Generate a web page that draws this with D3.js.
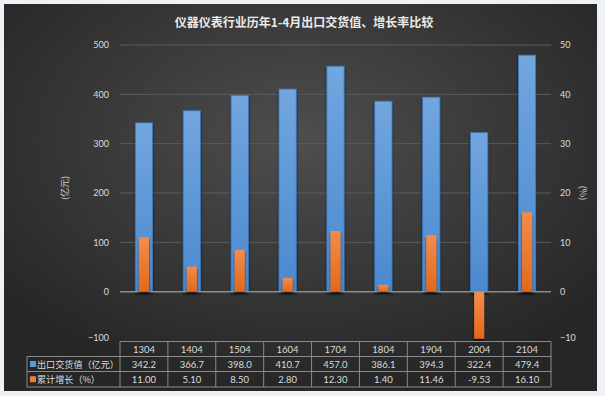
<!DOCTYPE html>
<html>
<head>
<meta charset="utf-8">
<script src="https://cdn.jsdelivr.net/npm/d3@7"></script>
<style>
  html, body { margin: 0; padding: 0; background: #eef1f5; }
  svg { display: block; }
</style>
</head>
<body>
<div id="chart"></div>
<script>
// data
const categories = ["1304", "1404", "1504", "1604", "1704", "1804", "1904", "2004", "2104"];
const exportValues = [342.2, 366.7, 398.0, 410.7, 457.0, 386.1, 394.3, 322.4, 479.4];
const growthRates = [11.00, 5.10, 8.50, 2.80, 12.30, 1.40, 11.46, -9.53, 16.10];
const leftTicks = [-100, 0, 100, 200, 300, 400, 500];
const rightTicks = [-10, 0, 10, 20, 30, 40, 50];
const seriesNames = ["出口交货值（亿元）", "累计增长（%）"];

const W = 605, H = 396;
const plot = { left: 120, right: 551, top: 45, bottom: 341 };
const cjk = "'Noto Sans CJK SC', 'Noto Sans', sans-serif";
const numFont = "'Lato', 'Noto Sans', sans-serif";
const txt = "#dcdcdc";

const svg = d3.select("#chart").append("svg")
  .attr("width", W).attr("height", H);

const defs = svg.append("defs");

const bg = defs.append("radialGradient").attr("id", "bg")
  .attr("cx", "50%").attr("cy", "35%").attr("r", "65%");
bg.append("stop").attr("offset", "0%").attr("stop-color", "#4e4e4e");
bg.append("stop").attr("offset", "100%").attr("stop-color", "#262626");

const blueGrad = defs.append("linearGradient").attr("id", "blueGrad")
  .attr("x1", 0).attr("y1", 0).attr("x2", 0).attr("y2", 1);
blueGrad.append("stop").attr("offset", "0%").attr("stop-color", "#72a6de");
blueGrad.append("stop").attr("offset", "100%").attr("stop-color", "#4a89cf");

const orangeGrad = defs.append("linearGradient").attr("id", "orangeGrad")
  .attr("x1", 0).attr("y1", 0).attr("x2", 0).attr("y2", 1);
orangeGrad.append("stop").attr("offset", "0%").attr("stop-color", "#f28c4c");
orangeGrad.append("stop").attr("offset", "100%").attr("stop-color", "#e2691b");

const shadow = defs.append("filter").attr("id", "shadow")
  .attr("x", "-30%").attr("y", "-10%").attr("width", "160%").attr("height", "130%");
shadow.append("feDropShadow").attr("dx", 0).attr("dy", 2)
  .attr("stdDeviation", 1.2).attr("flood-color", "#000").attr("flood-opacity", 0.7);

// panel
svg.append("rect").attr("x", 4).attr("y", 4).attr("width", 593).attr("height", 387)
  .attr("fill", "url(#bg)");

// scales
const x = d3.scaleBand().domain(categories).range([plot.left, plot.right]).padding(0);
const yL = d3.scaleLinear().domain([-100, 500]).range([plot.bottom, plot.top]);
const yR = d3.scaleLinear().domain([-10, 50]).range([plot.bottom, plot.top]);

// title
svg.append("text")
  .attr("x", 304).attr("y", 27)
  .attr("text-anchor", "middle")
  .attr("font-family", cjk).attr("font-size", 12).attr("font-weight", "bold")
  .attr("fill", "#eaeaea")
  .text("仪器仪表行业历年1-4月出口交货值、增长率比较");

// gridlines
svg.append("g").selectAll("line")
  .data(leftTicks.filter(d => d > 0))
  .join("line")
  .attr("x1", plot.left).attr("x2", plot.right)
  .attr("y1", d => yL(d)).attr("y2", d => yL(d))
  .attr("stroke", "#5c5c5c").attr("stroke-width", 1);

// left axis labels
const leftAxis = svg.append("g")
  .attr("transform", `translate(${plot.left},0)`)
  .call(d3.axisLeft(yL).tickValues(leftTicks).tickSize(0).tickPadding(11));
leftAxis.select(".domain").remove();
leftAxis.selectAll("text")
  .attr("font-family", numFont).attr("font-size", 9).attr("fill", txt);
leftAxis.selectAll("text").filter(d => d === -100).attr("dy", "-0.1em");

// right axis labels
const rightAxis = svg.append("g")
  .attr("transform", `translate(${plot.right},0)`)
  .call(d3.axisRight(yR).tickValues(rightTicks).tickSize(0).tickPadding(9));
rightAxis.select(".domain").remove();
rightAxis.selectAll("text")
  .attr("font-family", numFont).attr("font-size", 9).attr("fill", txt);
rightAxis.selectAll("text").filter(d => d === -10).attr("dy", "-0.1em");

// axis titles
svg.append("text")
  .attr("transform", `translate(68,${(yL(500) + yL(-100)) / 2 - 5}) rotate(-90)`)
  .attr("text-anchor", "middle")
  .attr("font-family", cjk).attr("font-size", 9).attr("fill", "#cfcfcf")
  .text("(亿元)");
svg.append("text")
  .attr("transform", `translate(580,${(yR(50) + yR(-10)) / 2}) rotate(90)`)
  .attr("text-anchor", "middle")
  .attr("font-family", cjk).attr("font-size", 9).attr("fill", "#cfcfcf")
  .text("(%)");

// blue bars (left axis)
const bw = x.bandwidth() * 0.36;
svg.append("g").selectAll("rect")
  .data(exportValues)
  .join("rect")
  .attr("x", (d, i) => x(categories[i]) + (x.bandwidth() - bw) / 2)
  .attr("y", d => yL(d))
  .attr("width", bw)
  .attr("height", d => yL(0) - yL(d))
  .attr("fill", "url(#blueGrad)")
  .attr("stroke", "#3f78b8").attr("stroke-width", 0.8)
  .attr("filter", "url(#shadow)");

// zero line
svg.append("line")
  .attr("x1", plot.left).attr("x2", plot.right)
  .attr("y1", yL(0)).attr("y2", yL(0))
  .attr("stroke", "#8c8c8c").attr("stroke-width", 1.5);

// orange bars (right axis)
const ow = x.bandwidth() * 0.21;
svg.append("g").selectAll("rect")
  .data(growthRates)
  .join("rect")
  .attr("x", (d, i) => x(categories[i]) + (x.bandwidth() - ow) / 2)
  .attr("y", d => yR(Math.max(d, 0)))
  .attr("width", ow)
  .attr("height", d => Math.abs(yR(d) - yR(0)))
  .attr("fill", "url(#orangeGrad)")
  .attr("filter", "url(#shadow)");

// data table
const rowY = [341.5, 356.5, 371.5, 387];
const tbl = svg.append("g")
  .attr("stroke", "#8a8a8a").attr("stroke-width", 1).attr("fill", "none");
// horizontal lines
tbl.append("line").attr("x1", plot.left).attr("x2", plot.right).attr("y1", rowY[0]).attr("y2", rowY[0]);
[1, 2, 3].forEach(r => {
  tbl.append("line").attr("x1", 27).attr("x2", plot.right).attr("y1", rowY[r]).attr("y2", rowY[r]);
});
// vertical lines
tbl.append("line").attr("x1", 27).attr("x2", 27).attr("y1", rowY[1]).attr("y2", rowY[3]);
const edges = categories.map(c => x(c)).concat([plot.right]);
tbl.selectAll("line.v")
  .data(edges)
  .join("line")
  .attr("class", "v")
  .attr("x1", d => d).attr("x2", d => d)
  .attr("y1", rowY[0]).attr("y2", rowY[3]);

const cellText = (vals, row, fmt) => {
  svg.append("g").selectAll("text")
    .data(vals)
    .join("text")
    .attr("x", (d, i) => x(categories[i]) + x.bandwidth() / 2)
    .attr("y", (rowY[row] + rowY[row + 1]) / 2 + 3.5)
    .attr("text-anchor", "middle")
    .attr("font-family", numFont).attr("font-size", 9.5).attr("fill", txt)
    .text(fmt);
};
cellText(categories, 0, d => d);
cellText(exportValues, 1, d => d.toFixed(1));
cellText(growthRates, 2, d => d.toFixed(2));

// legend keys in table
const keyColors = ["#5b9bd5", "#ed7d31"];
seriesNames.forEach((name, i) => {
  const cy = (rowY[i + 1] + rowY[i + 2]) / 2;
  svg.append("rect")
    .attr("x", 30).attr("y", cy - 3).attr("width", 6).attr("height", 6)
    .attr("fill", keyColors[i]);
  svg.append("text")
    .attr("x", 37).attr("y", cy + 3.5)
    .attr("font-family", cjk).attr("font-size", 9.1).attr("fill", txt)
    .text(name);
});
</script>
</body>
</html>
